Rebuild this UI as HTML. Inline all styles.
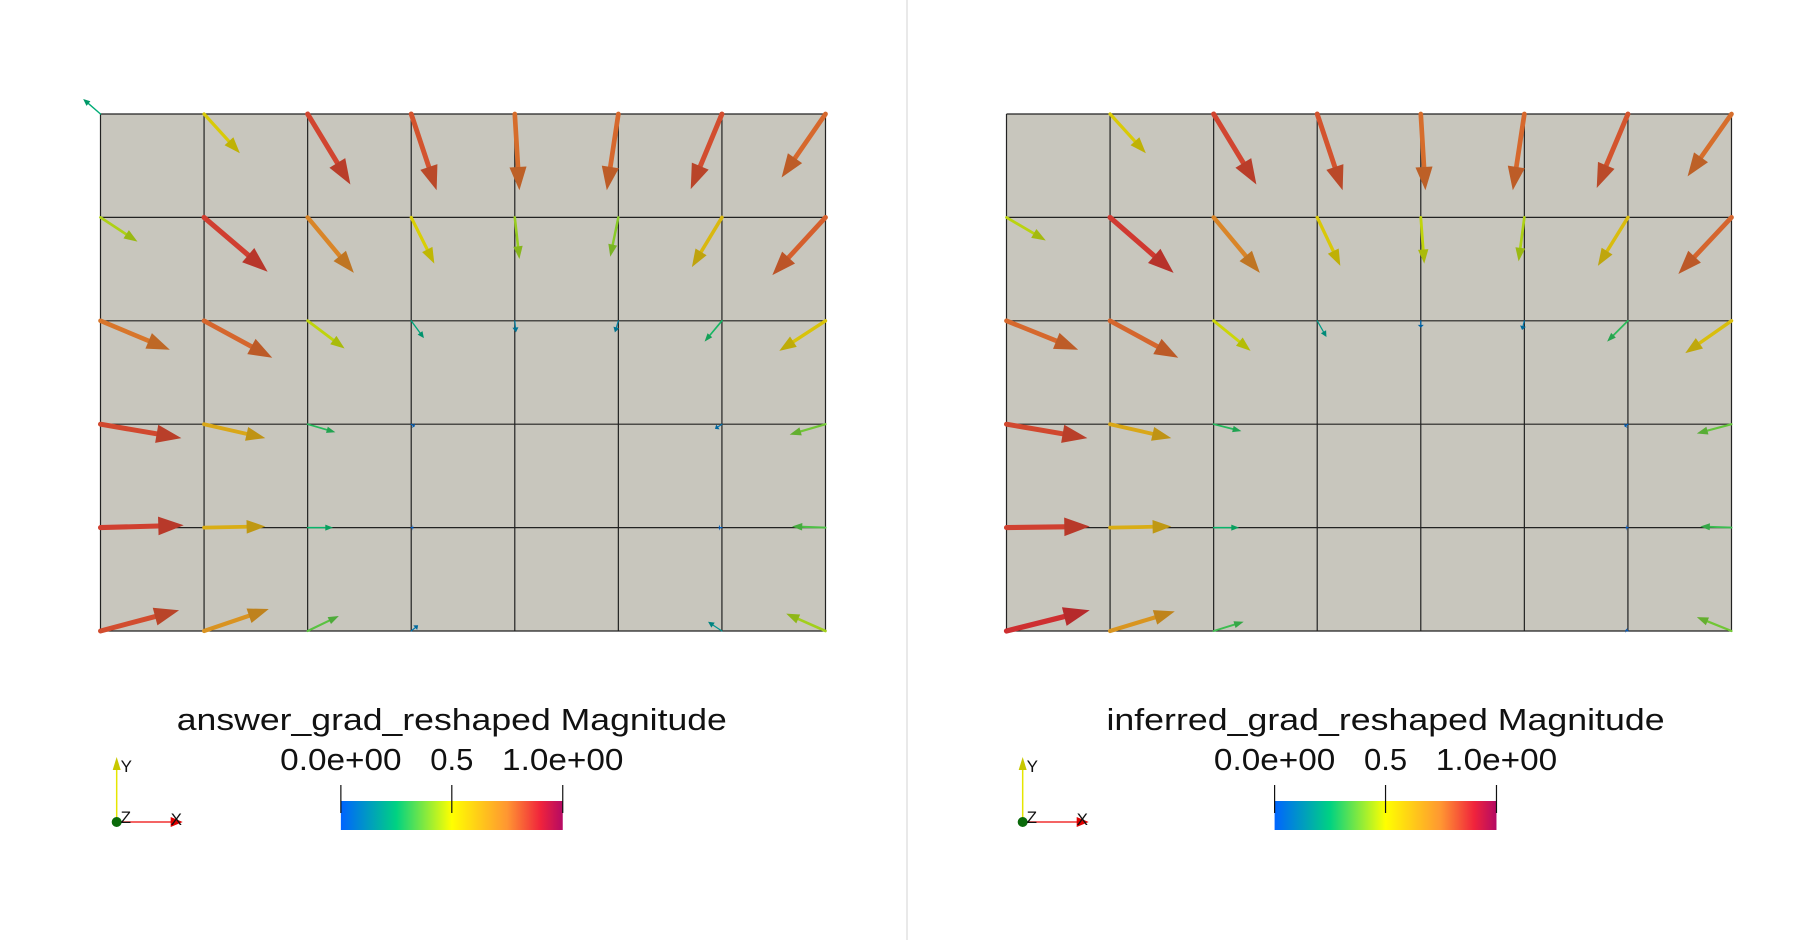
<!DOCTYPE html>
<html><head><meta charset="utf-8"><style>
html,body{margin:0;padding:0;background:#fff;}
svg{display:block;}
text{font-family:"Liberation Sans",sans-serif;fill:#111;}
</style></head><body>
<svg id="root" width="1812" height="940" viewBox="0 0 1812 940" xmlns="http://www.w3.org/2000/svg">
<line x1="907" y1="0" x2="907" y2="940" stroke="#e2e2e2" stroke-width="1.5"/>
<g id="panels"></g>
</svg>
<script>
// vector components per grid node (rows top->bottom, 8 nodes each), in screen-ish units (down positive)
const leftU = [
 [-15,31,37,22,4,-10,-27,-38],
 [32,55,40,20,4,-7,-26,-46],
 [60,59,32,11,1,-3,-15,-40],
 [70,53,24,3,0,0,-6,-31],
 [72,53,22,2,0,0,-3,-29],
 [68,56,27,6,0,0,-12,-34]];
const leftV = [
 [-13,34,61,66,66,66,65,55],
 [21,47,48,40,36,34,43,50],
 [25,32,24,15,10,10,18,26],
 [12,12,7,2,0,0,4,9],
 [-2,-1,0,0,0,0,0,-1],
 [-18,-19,-13,-5,0,0,-8,-15]];
const rightU = [
 [0,31,37,22,4,-10,-27,-38],
 [34,55,40,20,3,-5,-26,-46],
 [62,59,32,8,0,-2,-18,-40],
 [70,53,24,0,0,0,-3,-30],
 [72,53,22,0,0,0,-2,-27],
 [72,56,26,0,0,0,-2,-30]];
const rightV = [
 [0,34,61,66,66,66,64,54],
 [20,48,48,42,40,38,42,49],
 [25,32,26,14,6,8,18,28],
 [12,12,6,0,0,0,2,8],
 [-1,-1,0,0,0,0,0,-1],
 [-18,-17,-8,0,0,0,-1,-12]];
const tickLabels = ["0.0e+00","0.5","1.0e+00"];
const tickValues = [0,0.5,1];
const titles = ["answer_grad_reshaped Magnitude","inferred_grad_reshaped Magnitude"];

const NS="http://www.w3.org/2000/svg";
const S=1812/1568;
function mk(tag,attrs,parent){const e=document.createElementNS(NS,tag);for(const k in attrs)e.setAttribute(k,attrs[k]);parent.appendChild(e);return e;}
const stops=[[0,[0,100,255]],[0.25,[0,210,130]],[0.5,[255,255,0]],[0.75,[255,150,50]],[0.9,[240,35,60]],[1,[180,10,100]]];
function cmap(m,d){m=Math.max(0,Math.min(1,m));for(let i=1;i<stops.length;i++){if(m<=stops[i][0]){const a=stops[i-1],b=stops[i];const t=(m-a[0])/(b[0]-a[0]);const c=a[1].map((v,j)=>Math.round((v+(b[1][j]-v)*t)*d));return `rgb(${c[0]},${c[1]},${c[2]})`;}}return "rgb(180,10,100)";}

function panel(idx,x0,U,V,title,legOff,titleW){
  const g=mk('g',{},document.getElementById('panels'));
  
  
  const top=114, cw=(725)/7, ch=(631-114)/5;
  const xs=c=>x0+c*cw, ys=r=>top+r*ch;
  const bg=mk('rect',{x:x0,y:top,width:725,height:517,fill:'#c8c6bd'},g);
  
  
  for(let c=0;c<=7;c++){const l=mk('line',{x1:xs(c),y1:top,x2:xs(c),y2:ys(5),stroke:'#222','stroke-width':1.2},g);}
  for(let r=0;r<=5;r++){const l=mk('line',{x1:x0,y1:ys(r),x2:xs(7),y2:ys(r),stroke:'#222','stroke-width':1.2},g);}
  for(let r=0;r<6;r++)for(let c=0;c<8;c++){
    const u=U[r][c]*S,v=V[r][c]*S;const L=Math.hypot(u,v);if(L<2)continue;
    const m=Math.hypot(U[r][c],V[r][c])/85;
    const px=xs(c),py=ys(r),ux=u/L,uy=v/L,nx=-uy,ny=ux;
    const sw=Math.max(1.2,m*6),hl=Math.min(L*0.42,Math.max(6,m*30)),hw=Math.max(3,m*11);
    const bx=px+u-ux*hl,by=py+v-uy*hl;
    const a=mk('g',{},g);
    
    
    mk('line',{x1:px,y1:py,x2:bx,y2:by,stroke:cmap(m,0.85),'stroke-width':sw,'stroke-linecap':'round'},a);
    mk('polygon',{points:`${px+u},${py+v} ${bx+nx*hw},${by+ny*hw} ${bx-nx*hw},${by-ny*hw}`,fill:cmap(m,0.75)},a);
  }
  // legend
  const bx0=x0+legOff*S, bx1=bx0+192*S, cx=(bx0+bx1)/2;
  const t=mk('text',{x:cx,y:730,'font-size':31,'text-anchor':'middle',textLength:titleW*S,lengthAdjust:'spacingAndGlyphs'},g);t.textContent=title;
  
  const gid='grad'+idx;const defs=mk('defs',{},g);const lg=mk('linearGradient',{id:gid,x1:0,x2:1,y1:0,y2:0},defs);
  stops.forEach(s=>mk('stop',{offset:s[0],'stop-color':cmap(s[0],1)},lg));
  const bar=mk('rect',{x:bx0,y:801,width:bx1-bx0,height:29,fill:`url(#${gid})`},g);
  
  tickValues.forEach((tv,i)=>{const tx=bx0+tv*(bx1-bx0);
    const tl=mk('line',{x1:tx,y1:785,x2:tx,y2:813,stroke:'#111','stroke-width':1.2},g);
    
    const attrs={x:tx,y:770,'font-size':31,'text-anchor':'middle'};
    if(tickLabels[i].length>4){attrs.textLength=105*S;attrs.lengthAdjust='spacingAndGlyphs';}
    const lb=mk('text',attrs,g);lb.textContent=tickLabels[i];
    });
  // axes triad
  const ox=x0+(101-87)*S, oy=822;
  const tri=mk('g',{},g);
  mk('line',{x1:ox,y1:oy,x2:ox,y2:765,stroke:'#e6e600','stroke-width':1.5},tri);
  mk('polygon',{points:`${ox},757 ${ox-4},770 ${ox+4},770`,fill:'#c8c800'},tri);
  mk('line',{x1:ox,y1:oy,x2:ox+58,y2:oy,stroke:'#f03030','stroke-width':1.5},tri);
  mk('polygon',{points:`${ox+66},${oy} ${ox+54},${oy-5} ${ox+54},${oy+5}`,fill:'#e00000'},tri);
  mk('circle',{cx:ox,cy:oy,r:5,fill:'#0a6a0a'},tri);
  const ty=mk('text',{x:ox+4,y:772,'font-size':17},tri);ty.textContent='Y';
  const tz=mk('text',{x:ox+4,y:823,'font-size':17},tri);tz.textContent='Z';
  const tx=mk('text',{x:ox+54,y:825,'font-size':17},tri);tx.textContent='X';
}
panel(0,100.5,leftU,leftV,titles[0],208,476);
panel(1,1006.5,rightU,rightV,titles[1],232,483);
</script>
</body></html>
